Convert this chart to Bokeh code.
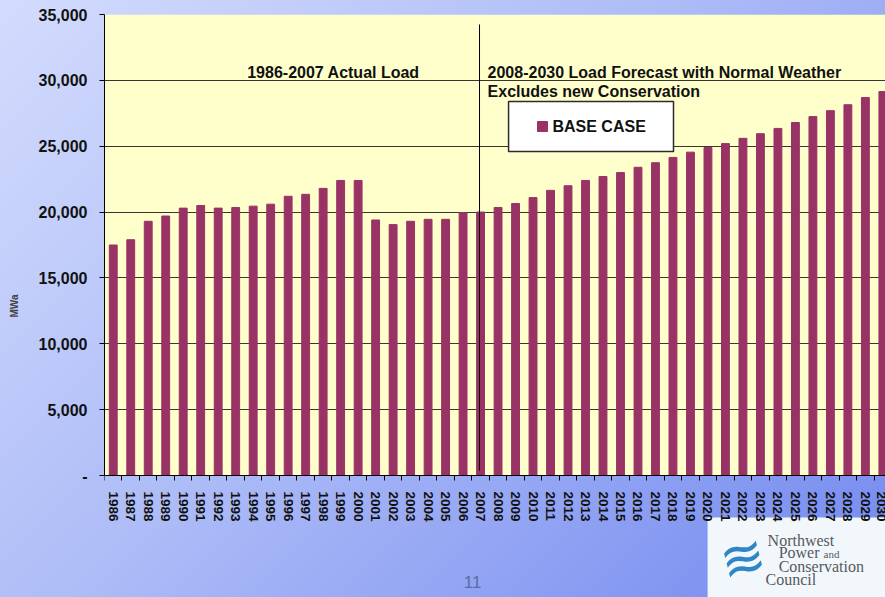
import math
from bokeh.plotting import figure
from bokeh.models import Range1d, FixedTicker, NumeralTickFormatter, Label, BoxAnnotation
from bokeh.embed import file_html
from bokeh.resources import INLINE

years = [1986, 1987, 1988, 1989, 1990, 1991, 1992, 1993, 1994, 1995,
         1996, 1997, 1998, 1999, 2000, 2001, 2002, 2003, 2004, 2005,
         2006, 2007, 2008, 2009, 2010, 2011, 2012, 2013, 2014, 2015,
         2016, 2017, 2018, 2019, 2020, 2021, 2022, 2023, 2024, 2025,
         2026, 2027, 2028, 2029, 2030]
load_mwa = [17500, 17900, 19300, 19700, 20300, 20500, 20300, 20350, 20450, 20600,
            21200, 21350, 21800, 22400, 22400, 19400, 19050, 19300, 19450, 19450,
            19950, 20000, 20350, 20650, 21100, 21650, 22000, 22400, 22700, 23000,
            23400, 23750, 24150, 24550, 24900, 25200, 25600, 25950, 26350, 26800,
            27250, 27700, 28150, 28700, 29150]
y_ticks = [0, 5000, 10000, 15000, 20000, 25000, 30000, 35000]
series_name = "BASE CASE"
actual_label = "1986-2007 Actual Load"
forecast_label_1 = "2008-2030 Load Forecast with Normal Weather"
forecast_label_2 = "Excludes new Conservation"
page_number = "11"
logo_lines = ["Northwest", "Power", "and", "Conservation", "Council"]

BAR = "#993366"
FONT = "Liberation Sans"

# frame reaches the bottom of the slide so that the logo and page number can be drawn
p = figure(width=885, height=597, output_backend="svg", toolbar_location=None,
           x_range=Range1d(1985.5, 2030.15), y_range=Range1d(-9262, 35000),
           min_border_left=104, min_border_right=0, min_border_top=14, min_border_bottom=0)
p.background_fill_alpha = 0
p.border_fill_alpha = 0
p.outline_line_color = None
p.styles = {"background": "linear-gradient(135deg, #d3dcfd 0%, #aebcf7 45%, #7389ef 100%)"}

# yellow plot area
p.add_layout(BoxAnnotation(bottom=0, top=35000, fill_color="#FFFFCC", fill_alpha=1,
                           line_color=None, level="image"))

p.vbar(x=years, top=load_mwa, width=0.45, color=BAR)

# grid
p.xgrid.visible = False
p.ygrid.ticker = FixedTicker(ticks=y_ticks)
p.ygrid.grid_line_color = "#363636"
p.ygrid.grid_line_width = 1.2

# y axis
ya = p.yaxis[0]
ya.ticker = FixedTicker(ticks=y_ticks)
ya.bounds = (0, 35000)
ya.formatter = NumeralTickFormatter(format="0,0")
ya.major_label_overrides = {0: "-"}
ya.major_label_text_font = FONT
ya.major_label_text_font_style = "bold"
ya.major_label_text_font_size = "16px"
ya.major_label_text_color = "#111111"
ya.major_label_standoff = 12
ya.major_tick_out = 5
ya.major_tick_in = 0
ya.minor_tick_out = 0
ya.minor_tick_in = 0
ya.axis_line_color = "black"
ya.major_tick_line_color = "black"
ya.axis_label = "MWa"
ya.axis_label_text_font = FONT
ya.axis_label_text_font_style = "bold"
ya.axis_label_text_font_size = "10px"
ya.axis_label_standoff = 16

# x axis drawn at y = 0 inside the frame
xa = p.xaxis[0]
xa.fixed_location = 0
xa.ticker = FixedTicker(ticks=years, minor_ticks=[y - 0.5 for y in years] + [years[-1] + 0.5])
xa.major_label_overrides = {y: str(y) for y in years}
xa.major_label_orientation = -math.pi / 2
xa.major_label_text_font = FONT
xa.major_label_text_font_style = "bold"
xa.major_label_text_font_size = "13.5px"
xa.major_label_text_color = "#111111"
xa.major_label_standoff = 11
xa.major_tick_out = 0
xa.major_tick_in = 0
xa.minor_tick_out = 5
xa.minor_tick_in = 0
xa.minor_tick_line_color = "black"
xa.axis_line_color = "black"

# divider between actual and forecast
p.segment(x0=[2006.94], y0=[380], x1=[2006.94], y1=[34240], line_color="black", line_width=1)

for txt, x, y, align in [(actual_label, 1998.59, 30600, "center"),
                         (forecast_label_1, 2007.40, 30600, "left"),
                         (forecast_label_2, 2007.40, 29150, "left")]:
    p.add_layout(Label(x=x, y=y, text=txt, text_align=align, text_baseline="middle",
                       text_font=FONT, text_font_style="bold", text_font_size="16px",
                       text_color="#111111"))

# legend box
p.quad(left=[2008.60], right=[2018.03], bottom=[24598], top=[28394],
       fill_color="white", line_color="#2b2b2b", line_width=1.5)
p.scatter(x=[2010.54], y=[26496], marker="square", size=10, color=BAR, line_color=BAR)
p.add_layout(Label(x=2011.11, y=26500, text=series_name, text_baseline="middle",
                   text_font=FONT, text_font_style="bold", text_font_size="16px",
                   text_color="#111111"))

# page number
p.add_layout(Label(x=2006.54, y=-8123, text=page_number, text_align="center", text_baseline="middle",
                   text_font=FONT, text_font_size="17px", text_color="#5d6ba6"))

# logo (drawn beneath the axis labels)
p.add_layout(BoxAnnotation(left=2019.98, top=-3189, fill_color="#f2f7fc", fill_alpha=1,
                           line_color=None, level="underlay"))
p.add_layout(Label(x=2022.0, y=-6300, text="≋", text_align="center", text_baseline="middle",
                   text_font="DejaVu Sans", text_font_size="54px", text_color="#2f86c6",
                   angle=0.25))
for txt, x, y, size in zip(logo_lines,
                           [2023.41, 2024.04, 2026.61, 2024.04, 2023.29],
                           [-4935, -5846, -5922, -6909, -7896],
                           ["16px", "16px", "11px", "16px", "16px"]):
    p.add_layout(Label(x=x, y=y, text=txt, text_baseline="middle",
                       text_font="Liberation Serif", text_font_size=size, text_color="#555a5e"))

open("out.html", "w").write(file_html(p, INLINE))
